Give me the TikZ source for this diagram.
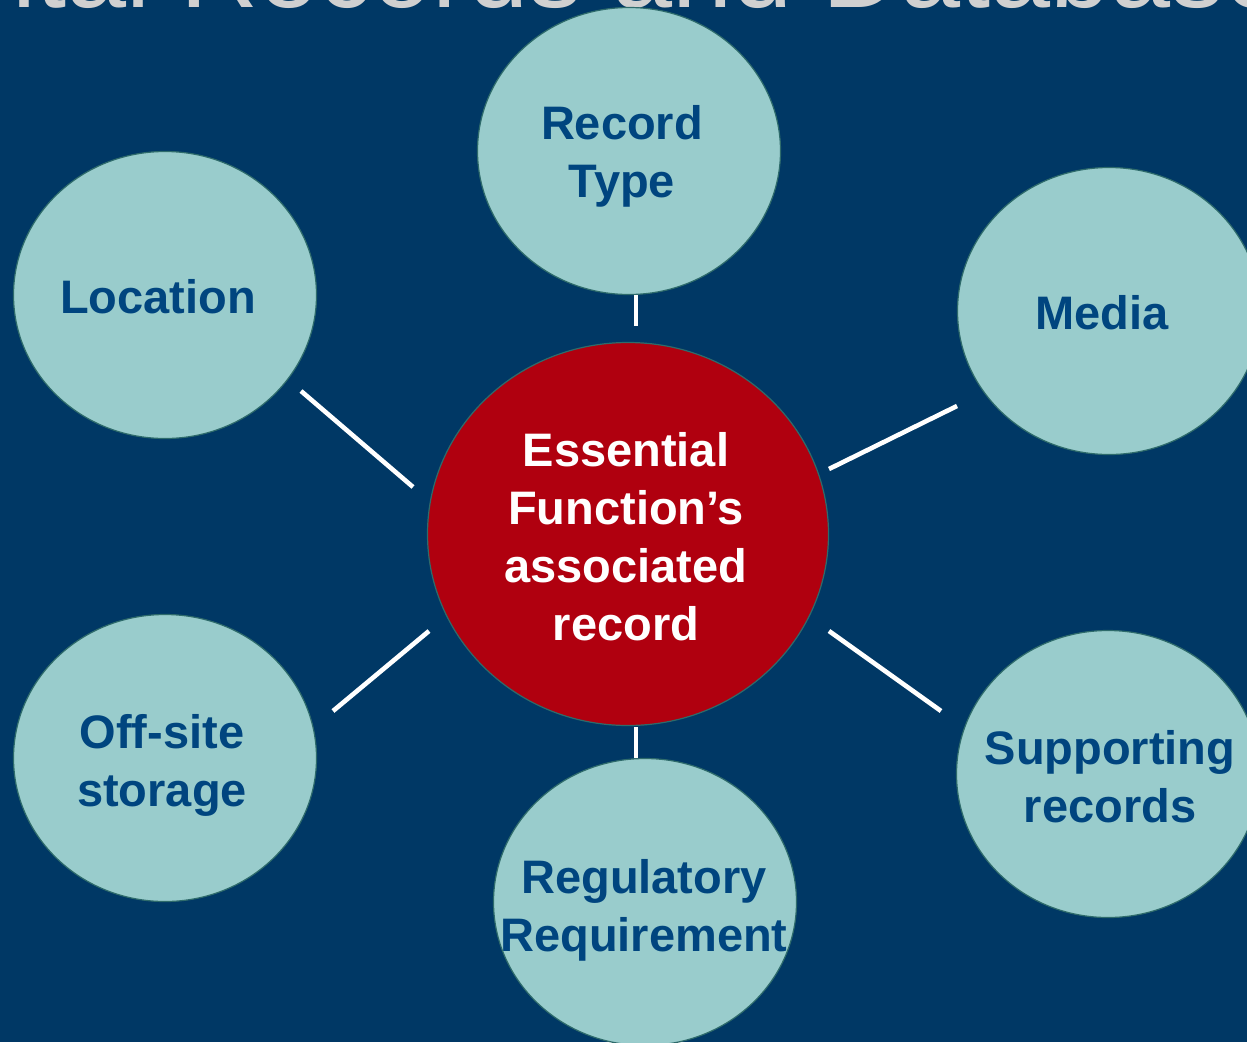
\documentclass[tikz,border=0pt]{standalone}
\usepackage{fontspec}
\setmainfont{Liberation Sans}
\usetikzlibrary{shapes.geometric}
\definecolor{bgnavy}{HTML}{003865}
\definecolor{teal}{HTML}{99CCCC}
\definecolor{tealedge}{HTML}{2E6B6B}
\definecolor{txtblue}{HTML}{00457F}
\definecolor{corered}{HTML}{B0000F}
\definecolor{titlegray}{HTML}{D0D0D0}
\tikzset{
  bubble/.style={ellipse, draw=tealedge, line width=1.2pt, fill=teal,
    minimum width=303pt, minimum height=287pt, inner sep=0pt},
  core/.style={ellipse, draw=tealedge, line width=1.2pt, fill=corered,
    minimum width=401pt, minimum height=383pt, inner sep=0pt},
  btext/.style={inner sep=0pt, text=txtblue, align=center,
    font=\fontsize{47}{58}\selectfont\bfseries},
  ctext/.style={inner sep=0pt, text=white, align=center,
    font=\fontsize{47}{58}\selectfont\bfseries},
  link/.style={draw=white, line width=4.6pt}
}
\begin{document}
\begin{tikzpicture}[x=1pt,y=-1pt]
\useasboundingbox (0,0) rectangle (1247,1042);
\clip (0,0) rectangle (1247,1042);
\fill[bgnavy] (0,0) rectangle (1247,1042);
\node[anchor=base west, inner sep=0pt, text=titlegray, font=\fontsize{108}{118}\selectfont] (title) at (-58,7) {Vital Records and Databases};

\node[core, label={[ctext, xshift=-2pt, yshift=-3pt]center:Essential\\ Function’s\\ associated\\ record}] (center) at (628,534) {};
\node[bubble, label={[btext, xshift=-7pt, yshift=-5pt]center:Record\\ Type}] (rtype) at (629,151) {};
\node[bubble, label={[btext, xshift=-7pt, yshift=-2pt]center:Location}] (loc) at (165,295) {};
\node[bubble, label={[btext, xshift=-7pt, yshift=-2pt]center:Media}] (media) at (1109,311) {};
\node[bubble, label={[btext, xshift=-3pt, yshift=-7pt]center:Off-site\\ storage}] (offsite) at (165,758) {};
\node[bubble, label={[btext, xshift=2pt, yshift=-3pt]center:Supporting\\ records}] (support) at (1108,774) {};
\node[bubble, label={[btext, xshift=-1pt, yshift=-8pt]center:Regulatory\\ Requirement}] (reg) at (645,902) {};

\coordinate (t1) at (636,295); \coordinate (t2) at (636,326);
\coordinate (b1) at (636,727); \coordinate (b2) at (636,758);
\coordinate (ul1) at (301,391); \coordinate (ul2) at (413,487);
\coordinate (ur1) at (829,469); \coordinate (ur2) at (957,406);
\coordinate (ll1) at (333,711); \coordinate (ll2) at (429,631);
\coordinate (lr1) at (829,631); \coordinate (lr2) at (941,711);

\draw[link] (t1) -- (t2);
\draw[link] (b1) -- (b2);
\draw[link] (ul1) -- (ul2);
\draw[link] (ur1) -- (ur2);
\draw[link] (ll1) -- (ll2);
\draw[link] (lr1) -- (lr2);
\end{tikzpicture}
\end{document}
